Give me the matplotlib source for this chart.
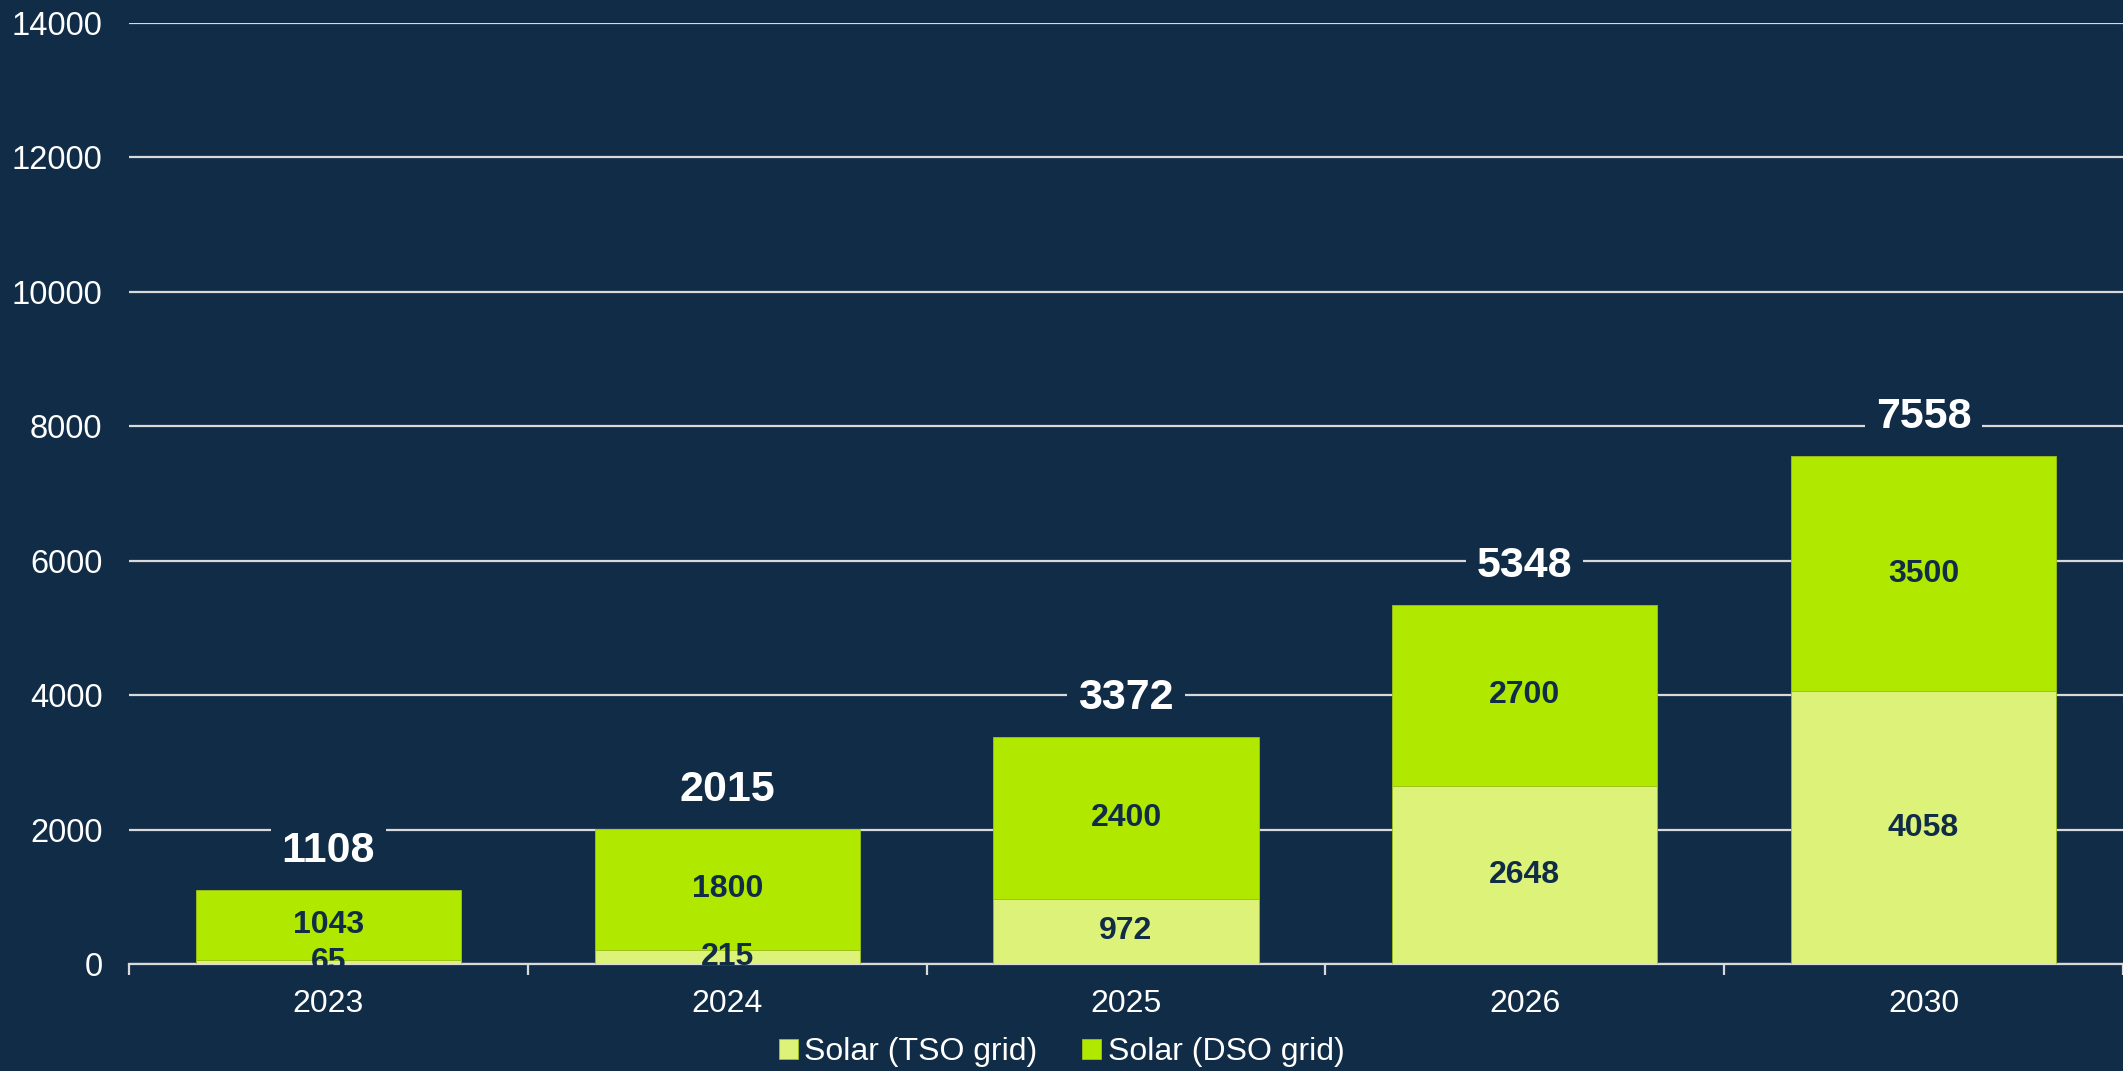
import matplotlib
matplotlib.use("Agg")
import matplotlib.pyplot as plt
import numpy as np

years = ["2023", "2024", "2025", "2026", "2030"]
tso = [65, 215, 972, 2648, 4058]
dso = [1043, 1800, 2400, 2700, 3500]
totals = [1108, 2015, 3372, 5348, 7558]
yticks = [0, 2000, 4000, 6000, 8000, 10000, 12000, 14000]

BG = "#102C47"
TSO_C = "#DDF279"
DSO_C = "#B0E800"
DARK = "#102C47"

plt.rcParams['font.family'] = ['Liberation Sans', 'DejaVu Sans']

fig = plt.figure(figsize=(21.23, 10.71), dpi=100, facecolor=BG)
ax = fig.add_axes([129/2123, 1 - 964/1071, 1 - 129/2123, (964 - 23)/1071])
ax.set_facecolor(BG)

x = np.arange(len(years))
w = 0.665
b1 = ax.bar(x, tso, w, color=TSO_C, label="Solar (TSO grid)", zorder=3,
            edgecolor="#9FC21A", linewidth=0.6)
b2 = ax.bar(x, dso, w, bottom=tso, color=DSO_C, label="Solar (DSO grid)", zorder=3,
            edgecolor="#9FC21A", linewidth=0.6)

for i in range(len(years)):
    ax.text(x[i], tso[i] / 2, str(tso[i]), ha="center", va="center",
            fontsize=23, fontweight="bold", color=DARK, zorder=5)
    ax.text(x[i], tso[i] + dso[i] / 2, str(dso[i]), ha="center", va="center",
            fontsize=23, fontweight="bold", color=DARK, zorder=5)
    ax.annotate(str(totals[i]), (x[i], totals[i]), xytext=(0, 28),
                textcoords="offset points", ha="center", va="center",
                fontsize=31, fontweight="bold", color="white", zorder=5,
                bbox=dict(boxstyle="square,pad=0.25", fc=BG, ec="none"))

ax.set_xlim(-0.5, len(years) - 0.5)
ax.set_ylim(0, 14000)
ax.set_yticks(yticks)
ax.set_yticklabels([str(v) for v in yticks])
ax.yaxis.grid(True, color="#D9D9D9", linewidth=1.6, zorder=0)
ax.set_axisbelow(True)
ax.tick_params(axis="y", length=0, labelsize=23.5, labelcolor="white", pad=19)

ax.set_xticks(x)
ax.set_xticklabels(years)
ax.set_xticks(np.arange(-0.5, len(years), 1.0), minor=True)
ax.tick_params(axis="x", which="major", length=0, labelsize=23, labelcolor="white", pad=18)
ax.tick_params(axis="x", which="minor", length=8, width=1.6, color="#D9D9D9", direction="out")

for s in ["top", "right", "left"]:
    ax.spines[s].set_visible(False)
ax.spines["bottom"].set_color("#D9D9D9")
ax.spines["bottom"].set_linewidth(1.6)

leg = fig.legend(handles=[b1, b2], loc="center", bbox_to_anchor=(0.5, 1 - 1052/1071),
                 ncol=2, frameon=False, fontsize=23, handlelength=0.6, handleheight=0.6,
                 handletextpad=0.2, columnspacing=1.4)
for t in leg.get_texts():
    t.set_color("white")

fig.savefig("out.png", dpi=100, facecolor=BG)
